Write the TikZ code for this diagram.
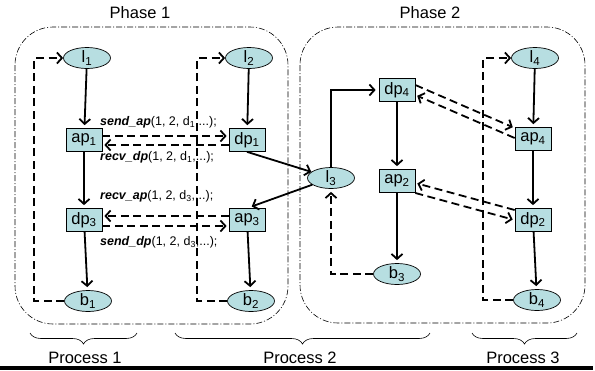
\documentclass[tikz,border=0pt]{standalone}
\usepackage{fontspec}
\setmainfont{Liberation Sans}
\usetikzlibrary{arrows.meta,shapes.geometric,decorations.pathreplacing,calc}
\definecolor{nodefill}{RGB}{183,222,225}
\begin{document}
\begin{tikzpicture}[x=1pt,y=-1pt,
  ell/.style={ellipse,draw,line width=0.7pt,fill=nodefill,minimum width=47pt,minimum height=21pt,inner sep=0pt,font=\fontsize{16.5}{16}\selectfont},
  box/.style={rectangle,draw,line width=0.7pt,fill=nodefill,minimum width=36pt,minimum height=23pt,inner sep=0pt,font=\fontsize{16.5}{16}\selectfont},
  tip/.style={-{Straight Barb[length=5pt,width=11pt]}},
  flow/.style={tip,line width=1.8pt,shorten >=3pt},
  msg/.style={tip,line width=1.8pt,dash pattern=on 8pt off 4.5pt,shorten >=2pt},
  loopback/.style={tip,line width=1.8pt,dash pattern=on 8pt off 4.5pt},
  phase/.style={line width=0.6pt,dash pattern=on 6pt off 2pt on 1pt off 2pt,rounded corners=38pt},
  callout/.style={anchor=west,inner sep=0pt,font=\fontsize{12.5}{13}\selectfont},
  title/.style={font=\fontsize{16.5}{16}\selectfont,inner sep=0pt},
  procbrace/.style={line width=0.6pt,decorate,decoration={brace,mirror,amplitude=11pt}}]
\useasboundingbox (0,0) rectangle (595,370);

% phase frames
\draw[phase] (15,27) rectangle (288,324);
\draw[phase] (300,27) rectangle (585,323);
\node[title] (ph1) at (140,13) {Phase 1};
\node[title] (ph2) at (430,13) {Phase 2};

% message labels
\node[callout] (t1) at (100,122) {\textbf{\textit{send\_ap}}(1, 2, d\textsubscript{1},...);};
\node[callout] (t2) at (100,157) {\textbf{\textit{recv\_dp}}(1, 2, d\textsubscript{1},...);};
\node[callout] (t3) at (100,196) {\textbf{\textit{recv\_ap}}(1, 2, d\textsubscript{3},...);};
\node[callout] (t4) at (100,242) {\textbf{\textit{send\_dp}}(1, 2, d\textsubscript{3},...);};

% process 1
\node[ell] (l1) at (87,58) {l\textsubscript{1}};
\node[box] (ap1) at (84,140) {ap\textsubscript{1}};
\node[box] (dp3) at (84,220) {dp\textsubscript{3}};
\node[ell] (b1) at (88,301) {b\textsubscript{1}};

% process 2
\node[ell] (l2) at (249,58) {l\textsubscript{2}};
\node[box] (dp1) at (247,140) {dp\textsubscript{1}};
\node[box] (ap3) at (247,220) {ap\textsubscript{3}};
\node[ell] (b2) at (251,301) {b\textsubscript{2}};
\node[ell] (l3) at (331,178) {l\textsubscript{3}};
\node[box] (dp4) at (397,90) {dp\textsubscript{4}};
\node[box] (ap2) at (397,181) {ap\textsubscript{2}};
\node[ell] (b3) at (397,274) {b\textsubscript{3}};

% process 3
\node[ell] (l4) at (535,58) {l\textsubscript{4}};
\node[box] (ap4) at (533,139) {ap\textsubscript{4}};
\node[box] (dp2) at (533,220) {dp\textsubscript{2}};
\node[ell] (b4) at (537,300) {b\textsubscript{4}};

% control flow
\draw[flow] (l1) -- (ap1);
\draw[flow] (ap1) -- (dp3);
\draw[flow] (dp3) -- (b1);
\draw[flow] (l2) -- (dp1);
\draw[flow] (ap3) -- (b2);
\draw[flow,shorten >=0pt] (dp1.south) -- (l3);
\draw[flow,shorten >=5pt] (l3) -- (ap3.north);
\draw[flow] (l3.north) |- (dp4.west);
\draw[flow] (dp4) -- (ap2);
\draw[flow] (ap2) -- (b3);
\draw[flow] (l4) -- (ap4);
\draw[flow] (ap4) -- (dp2);
\draw[flow] (dp2) -- (b4);

% loop back edges
\draw[loopback] (b1.west) -- ++(-30,0) |- (l1.west);
\draw[loopback] (b2.west) -- ++(-30,0) |- (l2.west);
\draw[loopback] (b4.west) -- ++(-30,0) |- (l4.west);
\draw[loopback,shorten >=3pt] (b3.west) -| (l3.south);

% messages
\draw[msg] ([yshift=4pt]ap1.east) -- ([yshift=4pt]dp1.west);
\draw[msg] ([yshift=-5pt]dp1.west) -- ([yshift=-5pt]ap1.east);
\draw[msg] ([yshift=4pt]ap3.west) -- ([yshift=4pt]dp3.east);
\draw[msg] ([yshift=-6pt]dp3.east) -- ([yshift=-6pt]ap3.west);
\draw[msg] ([yshift=5pt]dp4.east) -- ([yshift=11pt]ap4.west);
\draw[msg] ([yshift=1pt]ap4.west) -- ([yshift=-5pt]dp4.east);
\draw[msg] ([yshift=10pt]dp2.west) -- ([yshift=-2pt]ap2.east);
\draw[msg] ([yshift=-12pt]ap2.east) -- ([yshift=0pt]dp2.west);

% processes
\draw[procbrace] (30,333) -- (137,333);
\draw[procbrace] (175,333) -- (430,333);
\draw[procbrace] (472,333) -- (577,333);
\node[title] (p1) at (85,358) {Process 1};
\node[title] (p2) at (300,358) {Process 2};
\node[title] (p3) at (523,358) {Process 3};

% baseline rule
\fill (0,366) rectangle (593,370);
\end{tikzpicture}
\end{document}
